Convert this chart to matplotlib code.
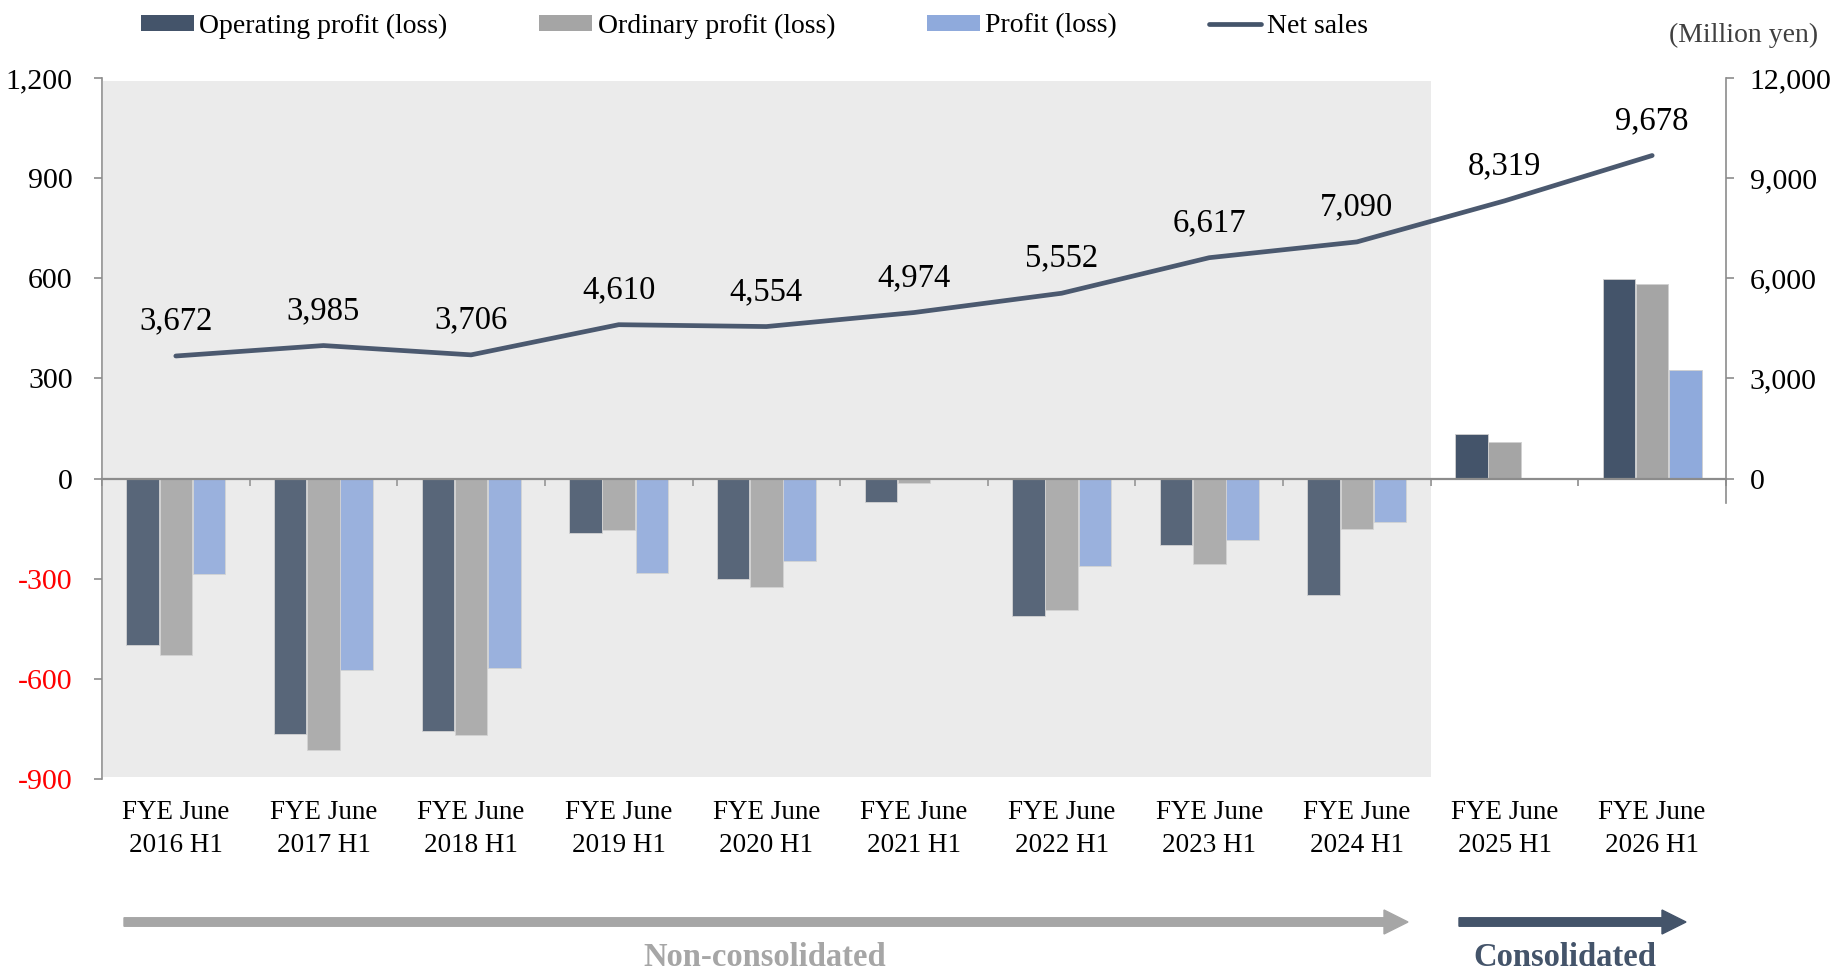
import matplotlib
matplotlib.use('Agg')
import matplotlib.pyplot as plt
from matplotlib.patches import Rectangle, FancyArrow, Patch
from matplotlib.lines import Line2D
from matplotlib.transforms import blended_transform_factory, IdentityTransform
import numpy as np

plt.rcParams['font.family'] = ['Liberation Serif', 'DejaVu Serif']

categories = ["FYE June\n2016 H1", "FYE June\n2017 H1", "FYE June\n2018 H1", "FYE June\n2019 H1",
              "FYE June\n2020 H1", "FYE June\n2021 H1", "FYE June\n2022 H1", "FYE June\n2023 H1",
              "FYE June\n2024 H1", "FYE June\n2025 H1", "FYE June\n2026 H1"]
operating_profit = [-500, -764, -755, -164, -300, -71, -413, -198, -348, 134, 597]
ordinary_profit = [-529, -814, -769, -155, -326, -12, -393, -257, -152, 109, 583]
profit = [-285, -574, -567, -283, -248, None, -263, -185, -131, None, 326]
net_sales = [3672, 3985, 3706, 4610, 4554, 4974, 5552, 6617, 7090, 8319, 9678]
left_ticks = [-900, -600, -300, 0, 300, 600, 900, 1200]
right_ticks = [0, 3000, 6000, 9000, 12000]

C_OP = '#44546A'
C_ORD = '#A5A5A5'
C_PRO = '#8FAADC'
C_LINE = '#4B596F'
C_AX = '#8C8C8C'

W, H = 1845, 973
fig = plt.figure(figsize=(W / 100, H / 100), dpi=100)
ax = fig.add_axes([102 / W, 1 - 779 / H, (1726 - 102) / W, (779 - 78) / H])
ax.patch.set_visible(False)

n = len(categories)
x = np.arange(n)
bw = 0.22
off = 0.225

# background region (non-consolidated)
ax.add_patch(Rectangle((-0.5, -893), 9.0, 1190 + 893, facecolor='#EBEBEB', edgecolor='none', zorder=0))

def draw(vals, dx, color):
    xs = [xi + dx for xi, v in zip(x, vals) if v is not None]
    vs = [v for v in vals if v is not None]
    ax.bar(xs, vs, width=bw, color=color, edgecolor='#D0D0D0', linewidth=0.6, zorder=2)

draw(operating_profit, -off, C_OP)
draw(ordinary_profit, 0, C_ORD)
draw(profit, off, C_PRO)

# light veil over the non-consolidated bars
ax.add_patch(Rectangle((-0.5, -893), 9.0, 1190 + 893, facecolor='#EBEBEB', edgecolor='none', alpha=0.12, zorder=3))

ax.set_xlim(-0.5, n - 0.5)
ax.set_ylim(-900, 1200)
ax.spines['top'].set_visible(False)
ax.spines['right'].set_visible(False)
ax.spines['left'].set_color(C_AX)
ax.spines['left'].set_linewidth(1.2)
ax.spines['bottom'].set_position(('data', 0))
ax.spines['bottom'].set_color(C_AX)
ax.spines['bottom'].set_linewidth(1.6)
ax.spines['bottom'].set_zorder(4)

ax.set_xticks(np.arange(-0.5, n, 1.0))
ax.set_xticklabels([])
ax.tick_params(axis='x', length=5, width=1.2, color=C_AX, direction='out')

ax.set_yticks(left_ticks)
ax.set_yticklabels([f"{v:,}" for v in left_ticks])
ax.tick_params(axis='y', length=6, width=1.2, color=C_AX, labelsize=21.5, pad=15)
for lab, v in zip(ax.get_yticklabels(), left_ticks):
    lab.set_color('#FF0000' if v < 0 else '#000000')

# category labels below the plot
tr = blended_transform_factory(ax.transData, fig.transFigure)
for xi, c in zip(x, categories):
    ax.text(xi, 1 - 829 / H, c, transform=tr, ha='center', va='center', fontsize=19.5,
            linespacing=1.38, color='#000000')

# right axis: net sales
ax2 = ax.twinx()
ax2.set_ylim(-9000, 12000)
for s in ['top', 'left', 'bottom']:
    ax2.spines[s].set_visible(False)
ax2.spines['right'].set_color(C_AX)
ax2.spines['right'].set_linewidth(1.2)
ax2.spines['right'].set_bounds(-740, 12000)
ax2.set_yticks(right_ticks)
ax2.set_yticklabels([f"{v:,}" for v in right_ticks])
ax2.tick_params(axis='y', length=6, width=1.2, color=C_AX, labelsize=21.5, pad=11)

ax2.plot(x, net_sales, color=C_LINE, linewidth=3.4, solid_capstyle='round', solid_joinstyle='round', zorder=5)
for xi, v in zip(x, net_sales):
    ax2.annotate(f"{v:,}", (xi, v), xytext=(0, 25), textcoords='offset points',
                 ha='center', va='center', fontsize=23.5, color='#000000')

# legend
handles = [Patch(facecolor=C_OP, edgecolor='none'), Patch(facecolor=C_ORD, edgecolor='none'),
           Patch(facecolor=C_PRO, edgecolor='none'),
           Line2D([0], [0], color=C_OP, linewidth=3.4, solid_capstyle='round')]
labels = ['Operating profit (loss)', 'Ordinary profit (loss)', 'Profit (loss)', 'Net sales']
fig.legend(handles, labels, loc='center left', bbox_to_anchor=(141 / W, 1 - 26 / H), ncol=4,
           frameon=False, fontsize=20, handlelength=1.9, handleheight=0.5, handletextpad=0.2,
           columnspacing=3.3, borderpad=0, borderaxespad=0)

fig.text(1818 / W, 1 - 35 / H, '(Million yen)', ha='right', va='center', fontsize=20, color='#404040')

# arrows
ya = H - 922
a1 = FancyArrow(124, ya, 1408 - 124, 0, width=8.5, head_width=24, head_length=24,
                length_includes_head=True, color='#A6A6A6', transform=IdentityTransform())
a2 = FancyArrow(1459, ya, 1686 - 1459, 0, width=8.5, head_width=24, head_length=24,
                length_includes_head=True, color='#44546A', transform=IdentityTransform())
fig.add_artist(a1)
fig.add_artist(a2)
fig.text(765 / W, 1 - 957 / H, 'Non-consolidated', ha='center', va='center', fontsize=23.5,
         fontweight='bold', color='#A6A6A6')
fig.text(1565 / W, 1 - 957 / H, 'Consolidated', ha='center', va='center', fontsize=23.5,
         fontweight='bold', color='#44546A')

fig.savefig('out.png', dpi=100)
